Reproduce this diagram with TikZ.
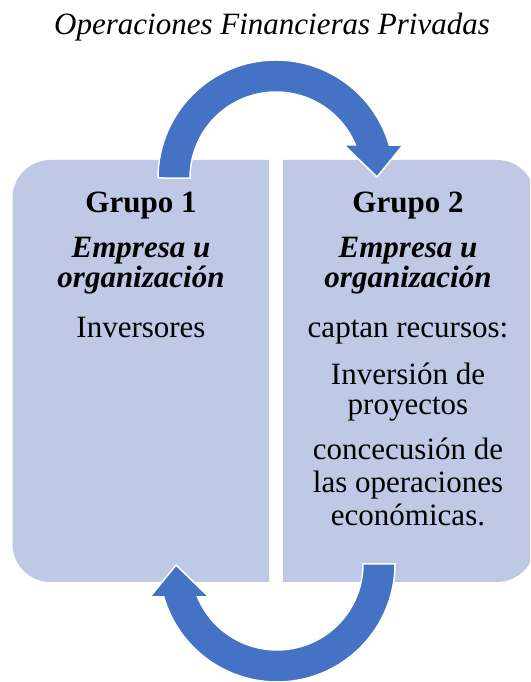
\documentclass[tikz,border=0pt]{standalone}
\usepackage{fontspec}
\setmainfont{Liberation Serif}
\definecolor{flecha}{HTML}{4472C4}
\definecolor{caja}{RGB}{191,200,228}
\tikzset{
  texto/.style={anchor=base, inner sep=0pt, font=\fontsize{31}{31}\selectfont},
  negrita/.style={texto, font=\fontsize{31}{31}\selectfont\bfseries},
  cursiva/.style={texto, font=\fontsize{31}{31}\selectfont\bfseries\itshape},
  flechacirc/.style={fill=flecha, draw=white, line width=1.5pt},
}
\begin{document}
\begin{tikzpicture}[x=1pt,y=1pt]
        \useasboundingbox (0,0) rectangle (530,682);
        \clip (0,0) rectangle (530,682);
        % titulo
        \node[texto, font=\fontsize{31}{31}\selectfont\itshape] (titulo) at (272,647) {Operaciones Financieras Privadas};
        % cajas
        \fill[caja] (269,100) -- (50.5,100) arc[start angle=270, end angle=180, radius=38] -- (12.5,484) arc[start angle=180, end angle=90, radius=38] -- (269,522) -- cycle ;
        \fill[caja] (283,100) -- (497,100) arc[start angle=-90, end angle=0, radius=38] -- (535,484) arc[start angle=0, end angle=90, radius=38] -- (283,522) -- cycle ;
        % flechas
        \filldraw[flechacirc] (158,504) arc[start angle=180, end angle=16.2, radius=118] -- (403,537) -- (377,505) -- (344,537) -- (355.4,537) arc[start angle=22.6, end angle=180, radius=86] -- cycle ;
        \filldraw[flechacirc] (395,118) arc[start angle=0, end angle=-163.8, radius=118] -- (150,85) -- (176,117) -- (209,85) -- (197.6,85) arc[start angle=-157.4, end angle=0, radius=86] -- cycle ;
        % grupo 1
        \node[negrita] (g1) at (141,469) {Grupo 1};
        \node[cursiva] (g1a) at (141,424) {Empresa u};
        \node[cursiva] (g1b) at (141,394) {organización};
        \node[texto] (g1c) at (141,344) {Inversores};
        % grupo 2
        \node[negrita] (g2) at (408,469) {Grupo 2};
        \node[cursiva] (g2a) at (408,424) {Empresa u};
        \node[cursiva] (g2b) at (408,394) {organización};
        \node[texto] (g2c) at (408,344) {captan recursos:};
        \node[texto] (g2d) at (408,297) {Inversión de};
        \node[texto] (g2e) at (408,267) {proyectos};
        \node[texto] (g2f) at (408,222) {concecusión de};
        \node[texto] (g2g) at (408,189) {las operaciones};
        \node[texto] (g2h) at (408,156) {económicas.};
\end{tikzpicture}
\end{document}
